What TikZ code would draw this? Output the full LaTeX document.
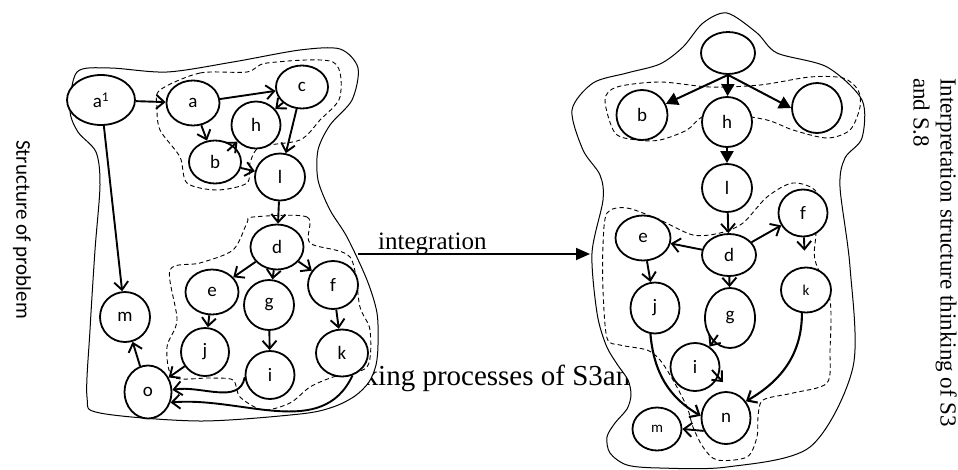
\documentclass[tikz,border=0pt]{standalone}
\usepackage{fontspec}
\setmainfont{Liberation Serif}
\newfontfamily\calib{Carlito}
\usetikzlibrary{shapes.geometric,arrows.meta}
\tikzset{
  bub/.style={draw, ellipse, line width=1.8pt, fill=white, inner sep=0pt, font=\calib\fontsize{19}{19}\selectfont},
  arr/.style={line width=1.9pt, -{Straight Barb[length=8pt,width=14pt]}},
  tri/.style={line width=2pt, -{Triangle[length=12pt,width=13pt]}},
  blob/.style={line width=1pt, fill=white},
  zone/.style={line width=0.9pt, dash pattern=on 4.5pt off 3pt},
}
\newcommand{\smallsans}{\fontsize{15}{15}\selectfont}
\begin{document}
\begin{tikzpicture}[x=1pt,y=-1pt]
\useasboundingbox (0,0) rectangle (958,469);
% caption behind the two structures
\node[anchor=base west, inner sep=0pt, font=\fontsize{29}{32}\selectfont] (proc) at (378,385) {\llap{Think}ing processes of S3and S.8};
% outer outlines
\draw[blob] plot[smooth cycle] coordinates {(77,72) (70,110) (78,132) (96,152) (100,185) (95,250) (90,330) (87,397) (100,413) (200,421) (300,414) (333,407) (355,396) (369,382) (376,365) (378,345) (377,313) (367,280) (347,237) (330,210) (318,180) (318,150) (330,125) (352,100) (358,68) (340,49) (300,50) (233,62) (167,72) (110,68)};
\draw[blob] plot[smooth cycle] coordinates {(727,13) (703,23) (683,47) (660,64) (627,73) (593,83) (572,110) (583,150) (600,175) (603,200) (592,253) (597,313) (606,345) (617,364) (628,380) (631,395) (627,409) (615,423) (607,437) (610,453) (627,465) (660,468) (727,467) (810,447) (853,367) (850,267) (840,187) (845,158) (862,138) (862,100) (827,67) (777,53) (757,33)};
% dashed groups
\draw[zone] plot[smooth cycle] coordinates {(160,90) (200,73) (247,72) (267,63) (333,62) (340,97) (320,120) (300,140) (260,147) (250,163) (247,183) (217,190) (187,183) (180,157) (160,130) (157,107)};
\draw[zone] plot[smooth cycle] coordinates {(253,217) (307,217) (310,243) (350,257) (360,307) (370,330) (367,367) (333,377) (310,387) (290,403) (263,410) (240,397) (233,380) (210,378) (173,377) (167,347) (177,320) (170,270) (200,263) (233,250) (247,223)};
\draw[zone] plot[smooth cycle] coordinates {(605,100) (617,87) (660,82) (710,87) (760,85) (810,77) (843,78) (858,90) (860,107) (850,130) (827,138) (793,130) (767,120) (727,114) (702,117) (687,130) (660,140) (637,140) (615,133)};
\draw[zone] plot[smooth cycle] coordinates {(607,213) (627,208) (660,220) (693,235) (720,233) (743,223) (767,197) (793,183) (817,193) (816,233) (815,260) (830,300) (830,350) (827,383) (793,393) (763,400) (758,417) (757,437) (747,457) (717,460) (703,447) (693,427) (687,407) (673,380) (660,360) (647,350) (620,345) (607,338) (603,290) (603,245)};
% structure of problem
\foreach \n/\x/\y/\w/\h/\t in {
  la1/101/100/68/50/{a\textsuperscript{1}},
  la/193/103/53/45/a, lc/302/87/52/43/c, lh/256/125/49/47/h,
  lb/215/162/52/43/b, ll/280/177/50/47/l, ld/277/247/53/45/d,
  le/212/292/53/45/e, lg/269/305/50/50/g, lf/333/285/50/48/f,
  lm/125/317/50/50/m, lj/205/352/48/48/j, li/270/375/49/48/i,
  lk/342/353/52/47/k, lo/148/392/47/53/o}
  \node[bub, minimum width=\w pt, minimum height=\h pt] (\n) at (\x,\y) {\t};
\foreach \s/\t in {la1/la, la1/lm, la/lc, lc/lh, la/lb, lc/ll, lb/ll, ll/ld,
  ld/le, ld/lg, ld/lf, le/lj, lg/li, lf/lk, lo/lm, lj/lo}
  \draw[arr] (\s) -- (\t);
\draw[arr, shorten <=-8pt] (lb) -- (lh);
\draw[arr] (li.185) to[out=-100, in=10] (lo.5);
\draw[arr] (lk.-65) to[out=-115, in=5] (lo.-25);
% interpretation structure
\foreach \n/\x/\y/\w/\h/\t in {
  rt/728/53/54/42/{}, rb/642/115/51/50/b, rh/727/122/50/50/h,
  rr/817/108/50/50/{}, rl/727/188/50/48/l, re/643/238/55/45/e,
  rd/729/255/54/42/d, rf/803/213/49/47/f, rk/806/290/50/45/{\smallsans k},
  rj/655/308/49/51/j, rg/730/318/50/60/g, ri/695/367/49/48/i,
  rn/726/418/49/52/n, rm/657/429/49/43/{\smallsans m}}
  \node[bub, minimum width=\w pt, minimum height=\h pt] (\n) at (\x,\y) {\t};
\draw[tri] (rt.south) -- (rb);
\draw[tri] (rt.south) -- (rh);
\draw[tri] (rt.south) -- (rr.west);
\draw[tri] (rh) -- (rl);
\foreach \s/\t in {rl/rd, rd/re, rd/rf, rd/rg, re/rj}
  \draw[arr] (\s) -- (\t);
\draw[arr, shorten >=16pt] (rf) -- (rk);
\draw[arr, shorten <=-8pt] (rg) -- (ri);
\draw[arr] ([xshift=17pt,yshift=-3pt]ri.center) -- ([xshift=-3pt,yshift=9pt]rn.north);
\draw[arr, line width=2.1pt] (rj.-100) to[out=-85, in=150] (rn.175);
\draw[arr, line width=2.1pt] (rk.-100) to[out=-90, in=30] (rn.40);
\draw[arr] (rn.210) -- (rm.east);
% integration
\coordinate (intS) at (358,254);
\coordinate (intE) at (590,254);
\draw[line width=1.8pt, -{Triangle[length=14pt,width=12pt]}] (intS) -- (intE);
\node[anchor=base west, inner sep=0pt, font=\fontsize{25}{28}\selectfont] (integ) at (378,249) {integration};
% side captions
\node[rotate=-90, anchor=west, inner sep=0pt, font=\calib\fontsize{21}{24}\selectfont] (sop) at (22,140) {Structure of problem};
\node[rotate=-90, anchor=north west, align=left, inner sep=0pt, font=\fontsize{23}{27}\selectfont] (ist) at (957,78) {Interpretation structure thinking of S3\\and S.8};
\end{tikzpicture}
\end{document}
